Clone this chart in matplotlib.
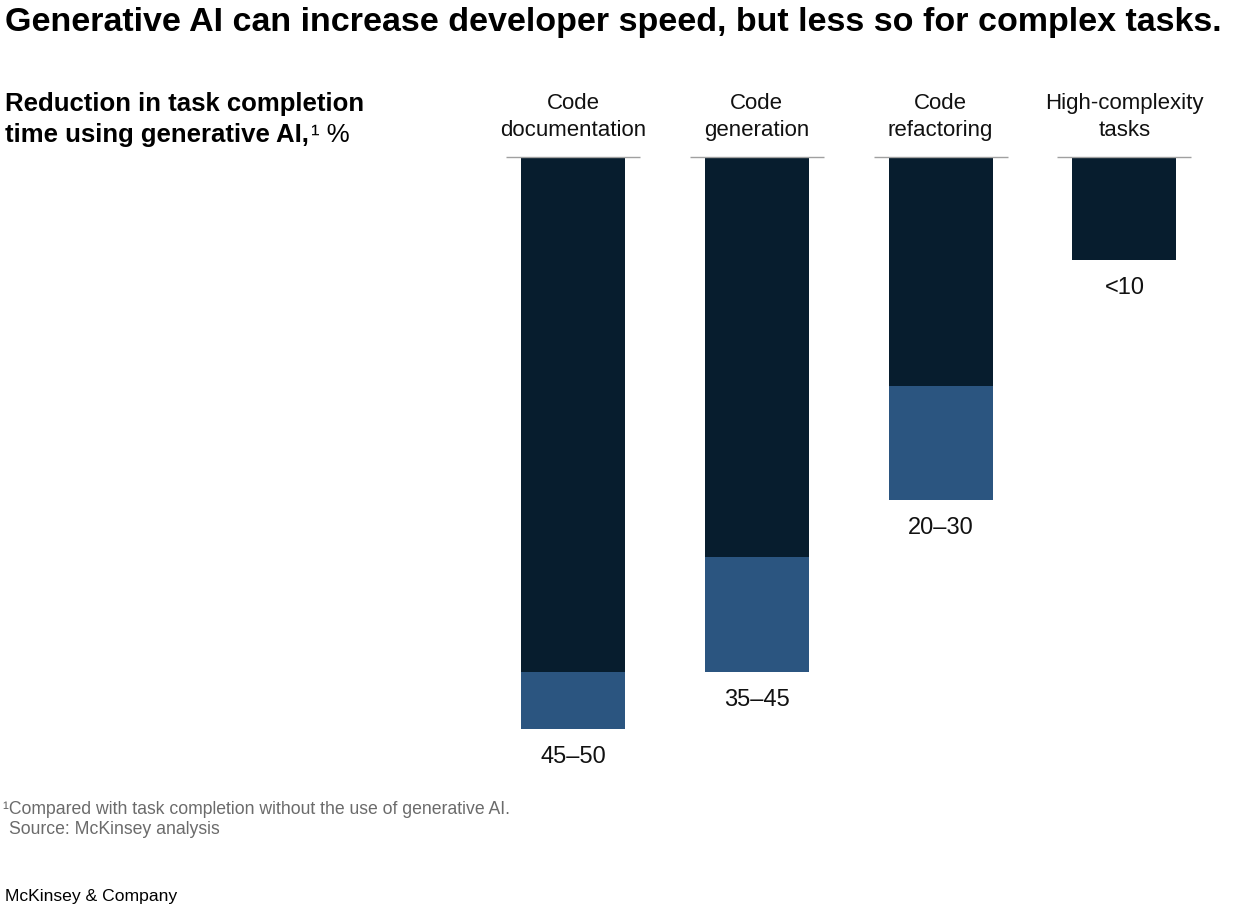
import numpy as np
import matplotlib
matplotlib.use('Agg')
import matplotlib.pyplot as plt

plt.rcParams['font.family'] = ['Liberation Sans', 'DejaVu Sans']

# data
categories = ['Code\ndocumentation', 'Code\ngeneration', 'Code\nrefactoring', 'High-complexity\ntasks']
low = [45, 35, 20, 9]
high = [50, 45, 30, 9]
range_labels = ['45\u201350', '35\u201345', '20\u201330', '<10']

dark = '#071d2e'
blue = '#2b5580'

W, H = 1256, 916
fig = plt.figure(figsize=(W / 100, H / 100), dpi=100)

# axes placed in pixel terms: x=-0.5..3.5, y=0..55 (inverted)
left, right = 481.1, 1216.3
top, bottom = 157, 786.2
ax = fig.add_axes([left / W, 1 - bottom / H, (right - left) / W, (bottom - top) / H])
ax.set_xlim(-0.5, 3.5)
ax.set_ylim(55, 0)
ax.axis('off')

x = np.arange(len(categories))
bw = 0.566
ax.bar(x, low, width=bw, color=dark, linewidth=0)
ax.bar(x, np.array(high) - np.array(low), bottom=low, width=bw, color=blue, linewidth=0)

for i in x:
    ax.plot([i - 0.365, i + 0.365], [0, 0], color='#a0a0a0', lw=1.0, solid_capstyle='butt',
            clip_on=False)
    ax.annotate(categories[i], xy=(i, 0), xytext=(0, 11.5), textcoords='offset points',
                ha='center', va='bottom', fontsize=16, color='#111111', linespacing=1.38)
    ax.annotate(range_labels[i], xy=(i, high[i]), xytext=(0, -20), textcoords='offset points',
                ha='center', va='center', fontsize=17, color='#111111')

# titles
fig.text(5 / W, 1 - 22 / H, 'Generative AI can increase developer speed, but less so for complex tasks.',
         fontsize=24.5, fontweight='bold', va='center', ha='left', color='black')
fig.text(5 / W, 1 - 104 / H, 'Reduction in task completion', fontsize=18.5, fontweight='bold',
         va='center', ha='left', color='black')
t2 = fig.text(5 / W, 1 - 135 / H, 'time using generative AI,', fontsize=18.5, fontweight='bold',
              va='center', ha='left', color='black')
sup = fig.text(0, 1 - 135 / H, '\u00b9 %', fontsize=18.5, va='center', ha='left', color='black')

# footnotes
fig.text(3 / W, 1 - 809 / H, '\u00b9Compared with task completion without the use of generative AI.',
         fontsize=12.7, color='#6b6b6b', va='center', ha='left')
fig.text(9 / W, 1 - 829 / H, 'Source: McKinsey analysis', fontsize=12.7, color='#6b6b6b',
         va='center', ha='left')
fig.text(5 / W, 1 - 897 / H, 'McKinsey & Company', fontsize=12.6, color='black',
         va='center', ha='left')

# place the "¹ %" right after the bold line
fig.canvas.draw()
bb = t2.get_window_extent()
sup.set_position((bb.x1 / W + 2 / W, 1 - 135 / H))

fig.savefig('out.png', dpi=100)
